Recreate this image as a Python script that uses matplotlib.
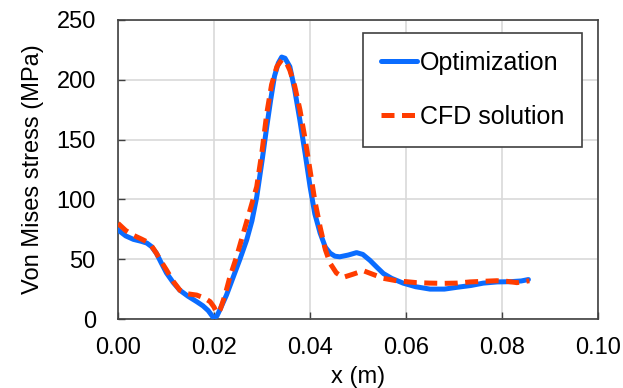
import numpy as np
import matplotlib.pyplot as plt

plt.rcParams['font.family'] = ['Liberation Sans', 'DejaVu Sans']

# Optimization curve
opt_x = [0.0000, 0.0016, 0.0032, 0.0048, 0.0060, 0.0070, 0.0080, 0.0090, 0.0101,
         0.0115, 0.0129, 0.0146, 0.0164, 0.0177, 0.0188, 0.0199, 0.0206, 0.0212,
         0.0226, 0.0240, 0.0254, 0.0268, 0.0279, 0.0289, 0.0300, 0.0310, 0.0318,
         0.0326, 0.0334, 0.0341, 0.0348, 0.0358, 0.0368, 0.0379, 0.0390, 0.0400,
         0.0410, 0.0421, 0.0432, 0.0442, 0.0452, 0.0462, 0.0480, 0.0497, 0.0510,
         0.0525, 0.0540, 0.0553, 0.0570, 0.0594, 0.0620, 0.0650, 0.0680, 0.0706,
         0.0735, 0.0761, 0.0790, 0.0817, 0.0840, 0.0855]
opt_y = [74.5, 69.5, 66.6, 65.0, 63.5, 60.5, 55.0, 47.0, 38.5,
         30.5, 24.0, 19.0, 14.5, 11.0, 7.0, 1.0, 2.5, 7.5,
         20.0, 35.0, 50.0, 66.0, 82.0, 102.0, 132.0, 161.0, 183.0,
         203.0, 214.0, 219.0, 218.0, 211.0, 192.0, 166.0, 138.0, 111.0,
         88.0, 72.0, 60.0, 55.0, 52.5, 52.0, 53.5, 55.5, 54.0,
         49.0, 43.0, 38.0, 34.0, 30.0, 27.0, 25.0, 25.0, 26.5,
         28.0, 30.0, 31.0, 31.2, 31.8, 33.0]

# CFD solution curve
cfd_x = [0.0000, 0.0016, 0.0032, 0.0048, 0.0060, 0.0070, 0.0080, 0.0090, 0.0101,
         0.0115, 0.0129, 0.0146, 0.0164, 0.0180, 0.0192, 0.0200, 0.0206, 0.0213,
         0.0223, 0.0233, 0.0247, 0.0261, 0.0275, 0.0289, 0.0300, 0.0310, 0.0320,
         0.0331, 0.0341, 0.0350, 0.0358, 0.0368, 0.0379, 0.0390, 0.0400, 0.0410,
         0.0421, 0.0432, 0.0442, 0.0455, 0.0469, 0.0490, 0.0511, 0.0530, 0.0553,
         0.0580, 0.0622, 0.0650, 0.0678, 0.0706, 0.0733, 0.0760, 0.0789, 0.0810,
         0.0831, 0.0857]
cfd_y = [80.0, 74.0, 70.0, 67.0, 64.6, 61.0, 55.0, 48.0, 41.0,
         31.5, 24.0, 21.0, 20.0, 17.5, 14.5, 10.0, 5.0, 8.0,
         20.0, 35.0, 52.0, 71.6, 91.0, 110.6, 140.0, 172.0, 196.0,
         211.0, 216.6, 215.0, 208.0, 195.0, 175.0, 150.0, 124.6, 99.0,
         77.0, 58.0, 46.5, 38.5, 34.8, 37.5, 40.4, 37.5, 34.0,
         32.0, 30.4, 30.0, 29.8, 30.0, 31.0, 31.5, 32.0, 31.5,
         30.4, 32.0]

x_ticks = [0.00, 0.02, 0.04, 0.06, 0.08, 0.10]
y_ticks = [0, 50, 100, 150, 200, 250]

fig = plt.figure(figsize=(6.23, 3.88), dpi=100)
ax = fig.add_axes([118 / 623, 1 - 319 / 388, 480 / 623, 299 / 388])

ax.plot(opt_x, opt_y, color='#0A6CFF', lw=3.6, solid_capstyle='round',
        solid_joinstyle='round', label='Optimization', zorder=3)
ax.plot(cfd_x, cfd_y, color='#FF3C00', lw=3.6, dashes=(2.6, 1.5),
        dash_capstyle='butt', label='CFD solution', zorder=4)

ax.set_xlim(0, 0.10)
ax.set_ylim(0, 250)
ax.set_xticks(x_ticks)
ax.set_yticks(y_ticks)
ax.set_xticklabels([f'{v:.2f}' for v in x_ticks])
ax.grid(True, color='#D9D9D9', lw=1.2)
ax.set_axisbelow(True)
ax.tick_params(direction='in', length=5, width=1, color='#404040',
               labelsize=17, labelcolor='black')
ax.tick_params(axis='x', pad=13)
ax.tick_params(axis='y', pad=16)
for s in ax.spines.values():
    s.set_color('#404040')
    s.set_linewidth(1.2)

ax.set_xlabel('x (m)', fontsize=17, labelpad=5)
ax.set_ylabel('Von Mises stress (MPa)', fontsize=17, labelpad=9)

leg = ax.legend(loc='upper right', bbox_to_anchor=(0.967, 0.957),
                borderaxespad=0, fontsize=18, handlelength=1.45,
                handletextpad=0.1, labelspacing=1.2, borderpad=0.72,
                fancybox=False, framealpha=1)
leg.get_frame().set_edgecolor('#404040')
leg.get_frame().set_linewidth(1.2)

fig.savefig('out.png', dpi=100)
